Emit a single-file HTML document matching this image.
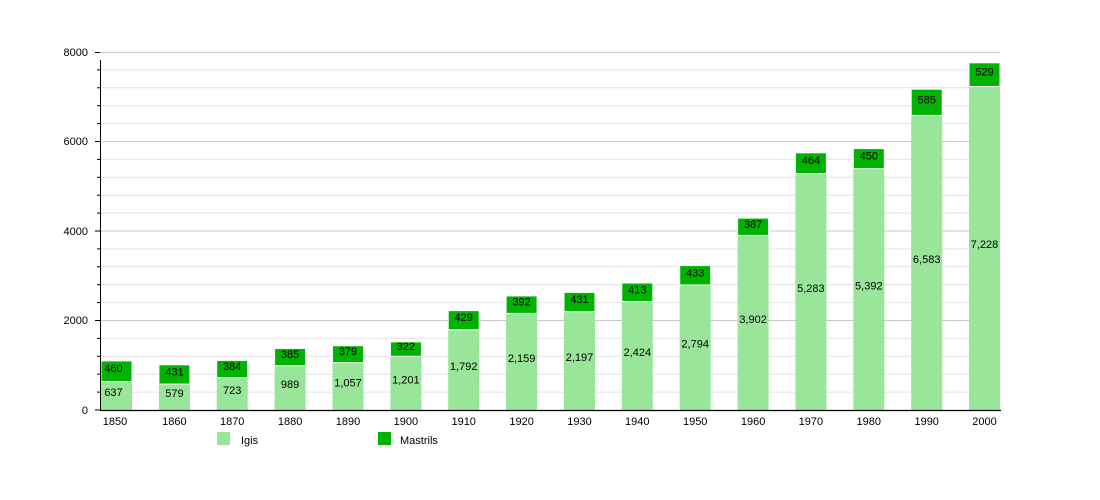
<!DOCTYPE html>
<html><head><meta charset="utf-8"><style>
html,body{margin:0;padding:0;background:#fff;}
svg{display:block;font-family:"Liberation Sans",Arial,sans-serif;}
</style></head><body>
<svg width="1100" height="500" viewBox="0 0 1100 500" xmlns="http://www.w3.org/2000/svg">
<g stroke="#e4e4e4" stroke-width="1">
<line x1="100" y1="392.1" x2="1000" y2="392.1"/><line x1="100" y1="374.2" x2="1000" y2="374.2"/><line x1="100" y1="356.3" x2="1000" y2="356.3"/><line x1="100" y1="338.4" x2="1000" y2="338.4"/>
<line x1="100" y1="302.6" x2="1000" y2="302.6"/><line x1="100" y1="284.7" x2="1000" y2="284.7"/><line x1="100" y1="266.8" x2="1000" y2="266.8"/><line x1="100" y1="248.9" x2="1000" y2="248.9"/>
<line x1="100" y1="213.1" x2="1000" y2="213.1"/><line x1="100" y1="195.2" x2="1000" y2="195.2"/><line x1="100" y1="177.3" x2="1000" y2="177.3"/><line x1="100" y1="159.4" x2="1000" y2="159.4"/>
<line x1="100" y1="123.6" x2="1000" y2="123.6"/><line x1="100" y1="105.7" x2="1000" y2="105.7"/><line x1="100" y1="87.8" x2="1000" y2="87.8"/><line x1="100" y1="69.9" x2="1000" y2="69.9"/>
</g>
<g stroke="#c8c8c8" stroke-width="1">
<line x1="100" y1="320.5" x2="1000" y2="320.5"/><line x1="100" y1="231" x2="1000" y2="231"/><line x1="100" y1="141.5" x2="1000" y2="141.5"/><line x1="100" y1="52.5" x2="1000" y2="52.5"/>
</g>
<g stroke="#000" stroke-width="1">
<line x1="95" y1="52.5" x2="100" y2="52.5"/><line x1="95" y1="141.5" x2="100" y2="141.5"/><line x1="95" y1="231" x2="100" y2="231"/><line x1="95" y1="320.5" x2="100" y2="320.5"/><line x1="95" y1="410" x2="100" y2="410"/>
<line x1="97" y1="392.1" x2="100" y2="392.1"/><line x1="97" y1="374.2" x2="100" y2="374.2"/><line x1="97" y1="356.3" x2="100" y2="356.3"/><line x1="97" y1="338.4" x2="100" y2="338.4"/>
<line x1="97" y1="302.6" x2="100" y2="302.6"/><line x1="97" y1="284.7" x2="100" y2="284.7"/><line x1="97" y1="266.8" x2="100" y2="266.8"/><line x1="97" y1="248.9" x2="100" y2="248.9"/>
<line x1="97" y1="213.1" x2="100" y2="213.1"/><line x1="97" y1="195.2" x2="100" y2="195.2"/><line x1="97" y1="177.3" x2="100" y2="177.3"/><line x1="97" y1="159.4" x2="100" y2="159.4"/>
<line x1="97" y1="123.6" x2="100" y2="123.6"/><line x1="97" y1="105.7" x2="100" y2="105.7"/><line x1="97" y1="87.8" x2="100" y2="87.8"/><line x1="97" y1="69.9" x2="100" y2="69.9"/>
</g>
<g fill="#000" font-size="11" text-anchor="end">
<text x="88" y="56">8000</text><text x="88" y="145">6000</text><text x="88" y="235">4000</text><text x="88" y="324">2000</text><text x="88" y="414">0</text>
</g>
<g fill="#99e599">
<rect x="101" y="381.5" width="31" height="28.5"/><rect x="158.9" y="384.1" width="31" height="25.9"/><rect x="216.7" y="377.6" width="31" height="32.4"/><rect x="274.6" y="365.7" width="31" height="44.3"/>
<rect x="332.5" y="362.7" width="31" height="47.3"/><rect x="390.4" y="356.3" width="31" height="53.7"/><rect x="448.2" y="329.8" width="31" height="80.2"/><rect x="506.1" y="313.4" width="31" height="96.6"/>
<rect x="564" y="311.7" width="31" height="98.3"/><rect x="621.8" y="301.5" width="31" height="108.5"/><rect x="679.7" y="285" width="31" height="125"/><rect x="737.6" y="235.4" width="31" height="174.6"/>
<rect x="795.4" y="173.6" width="31" height="236.4"/><rect x="853.3" y="168.7" width="31" height="241.3"/><rect x="911.2" y="115.4" width="31" height="294.6"/><rect x="969" y="86.5" width="31" height="323.5"/>
</g>
<g fill="#00b300" stroke="#fff" stroke-width="1">
<rect x="101" y="360.9" width="31" height="20.6"/><rect x="158.9" y="364.8" width="31" height="19.3"/><rect x="216.7" y="360.4" width="31" height="17.2"/><rect x="274.6" y="348.5" width="31" height="17.2"/>
<rect x="332.5" y="345.7" width="31" height="17"/><rect x="390.4" y="341.9" width="31" height="14.4"/><rect x="448.2" y="310.6" width="31" height="19.2"/><rect x="506.1" y="295.9" width="31" height="17.5"/>
<rect x="564" y="292.4" width="31" height="19.3"/><rect x="621.8" y="283" width="31" height="18.5"/><rect x="679.7" y="265.6" width="31" height="19.4"/><rect x="737.6" y="218.1" width="31" height="17.3"/>
<rect x="795.4" y="152.8" width="31" height="20.8"/><rect x="853.3" y="148.6" width="31" height="20.1"/><rect x="911.2" y="89.2" width="31" height="26.2"/><rect x="969" y="62.8" width="31" height="23.7"/>
</g>
<line x1="100.5" y1="60" x2="100.5" y2="410" stroke="#000" stroke-width="1"/>
<line x1="100" y1="410.5" x2="1001" y2="410.5" stroke="#000" stroke-width="1.2"/>
<g fill="#000" font-size="11" text-anchor="middle">
<text x="113.5" y="396">637</text><text x="174.4" y="397">579</text><text x="232.2" y="394">723</text><text x="290.1" y="388">989</text>
<text x="348" y="386.5">1,057</text><text x="405.9" y="383.5">1,201</text><text x="463.7" y="370">1,792</text><text x="521.6" y="362">2,159</text>
<text x="579.5" y="361">2,197</text><text x="637.3" y="356">2,424</text><text x="695.2" y="347.5">2,794</text><text x="753.1" y="323">3,902</text>
<text x="810.9" y="292">5,283</text><text x="868.8" y="289.5">5,392</text><text x="926.7" y="263">6,583</text><text x="984.5" y="248">7,228</text>
<text x="113.5" y="372.2">460</text><text x="174.4" y="375.4">431</text><text x="232.2" y="370">384</text><text x="290.1" y="358.1">385</text>
<text x="348" y="355.2">379</text><text x="405.9" y="350.1">322</text><text x="463.7" y="321.2">429</text><text x="521.6" y="305.7">392</text>
<text x="579.5" y="303">431</text><text x="637.3" y="293.3">413</text><text x="695.2" y="276.3">433</text><text x="753.1" y="227.8">387</text>
<text x="810.9" y="164.2">464</text><text x="868.8" y="159.6">450</text><text x="926.7" y="103.3">585</text><text x="984.5" y="75.7">529</text>
</g>
<g fill="#000" font-size="11" text-anchor="middle">
<text x="115" y="425">1850</text><text x="174.4" y="425">1860</text><text x="232.2" y="425">1870</text><text x="290.1" y="425">1880</text>
<text x="348" y="425">1890</text><text x="405.9" y="425">1900</text><text x="463.7" y="425">1910</text><text x="521.6" y="425">1920</text>
<text x="579.5" y="425">1930</text><text x="637.3" y="425">1940</text><text x="695.2" y="425">1950</text><text x="753.1" y="425">1960</text>
<text x="810.9" y="425">1970</text><text x="868.8" y="425">1980</text><text x="926.7" y="425">1990</text><text x="984.5" y="425">2000</text>
</g>
<rect x="217" y="432" width="13" height="13" fill="#99e599"/>
<text x="241" y="444" font-size="11" fill="#000">Igis</text>
<rect x="378" y="432" width="13" height="13" fill="#00b300"/>
<text x="400" y="444" font-size="11" fill="#000">Mastrils</text>
</svg>
</body></html>
